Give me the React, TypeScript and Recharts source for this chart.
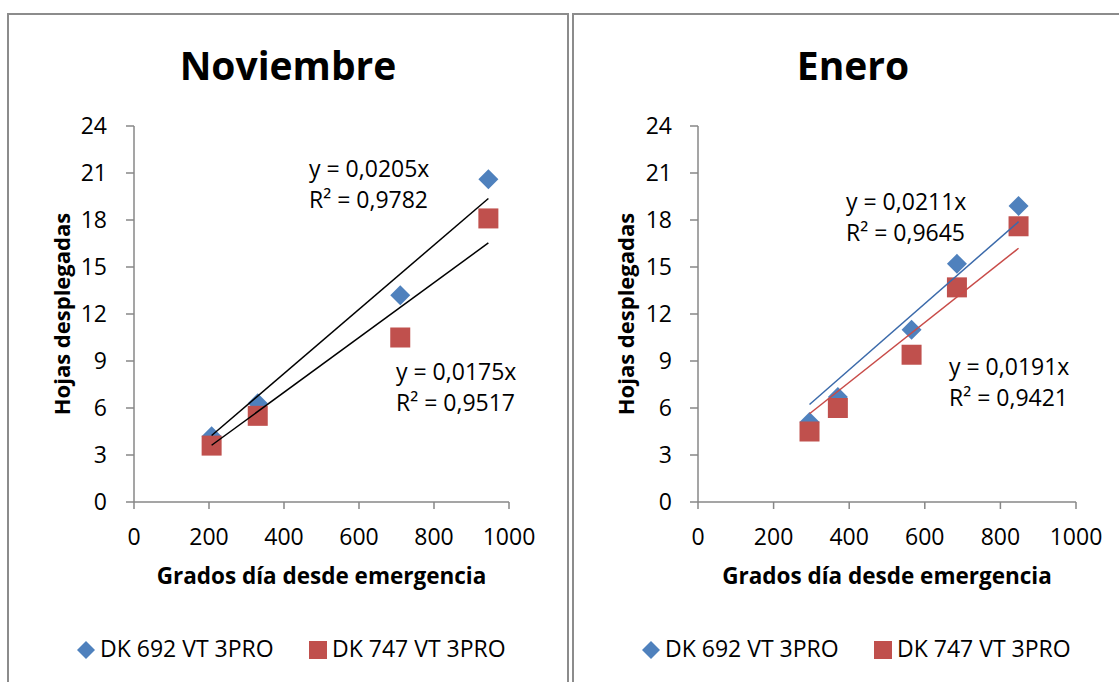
import React from 'react';
import { ScatterChart, Scatter, XAxis, YAxis, Legend } from 'recharts';

const SERIES_NAMES = ['DK 692 VT 3PRO', 'DK 747 VT 3PRO'];
const SERIES_COLORS = ['#4F81BD', '#C0504D'];

// Noviembre
const novGrados = [207, 330, 710, 945];
const novDk692 = [4.2, 6.3, 13.2, 20.6];
const novDk747 = [3.6, 5.5, 10.5, 18.1];
const novSlopes = [0.0205, 0.0175];
const novR2 = ['0,9782', '0,9517'];

// Enero
const eneGrados = [295, 370, 565, 685, 848];
const eneDk692 = [5.1, 6.7, 11.0, 15.2, 18.9];
const eneDk747 = [4.5, 6.0, 9.4, 13.7, 17.6];
const eneSlopes = [0.0211, 0.0191];
const eneR2 = ['0,9645', '0,9421'];

const X_TICKS = [0, 200, 400, 600, 800, 1000];
const Y_TICKS = [0, 3, 6, 9, 12, 15, 18, 21, 24];

const FONT = '"Open Sans", sans-serif';
const AXIS_GREY = '#878787';
const CHART_W = 560;
const CHART_H = 667;

const toPoints = (xs: number[], ys: number[]) => xs.map((x, i) => ({ x, y: ys[i] }));

// trendline through origin, drawn over the range of the data
const trendPoints = (xs: number[], slope: number) => {
  const lo = Math.min(...xs);
  const hi = Math.max(...xs);
  return [{ x: lo, y: slope * lo }, { x: hi, y: slope * hi }];
};

const fmtSlope = (s: number) => s.toFixed(4).replace('.', ',');

const Diamond = ({ cx, cy, fill }: any) => (
  <polygon points={`${cx},${cy - 10} ${cx + 10},${cy} ${cx},${cy + 10} ${cx - 10},${cy}`} fill={fill} />
);
const Square = ({ cx, cy, fill }: any) => (
  <rect x={cx - 10} y={cy - 10} width={20} height={20} fill={fill} />
);
const NoMark = () => <g />;

const XTitle = ({ viewBox }: any) => (
  <text
    x={viewBox.x + viewBox.width / 2}
    y={viewBox.y + 82}
    textAnchor="middle"
    fontSize={22.5}
    fontWeight="bold"
    fontFamily={FONT}
    fill="#000"
  >
    Grados día desde emergencia
  </text>
);

const YTitle = ({ viewBox }: any) => {
  const cx = viewBox.x - 13;
  const cy = viewBox.y + viewBox.height / 2;
  return (
    <text
      x={cx}
      y={cy}
      transform={`rotate(-90 ${cx} ${cy})`}
      textAnchor="middle"
      dominantBaseline="central"
      fontSize={22}
      fontWeight="bold"
      fontFamily={FONT}
      fill="#000"
    >
      Hojas desplegadas
    </text>
  );
};

const LegendRow = ({ payload }: any) => {
  const items = (payload || []).filter((e: any) => SERIES_NAMES.includes(e.value));
  return (
    <div style={{ position: 'relative', width: CHART_W, height: 30 }}>
      {items.map((entry: any, i: number) => {
        const left = 69 + i * 232;
        return (
          <React.Fragment key={entry.value}>
            <svg style={{ position: 'absolute', left, top: 8 }} width={18} height={18}>
              {entry.type === 'diamond' ? (
                <polygon points="9,0 18,9 9,18 0,9" fill={entry.color} />
              ) : (
                <rect width={18} height={18} fill={entry.color} />
              )}
            </svg>
            <span
              style={{
                position: 'absolute',
                left: left + 23,
                top: 0,
                fontSize: 23,
                lineHeight: '30px',
                whiteSpace: 'nowrap',
                color: '#000',
              }}
            >
              {entry.value}
            </span>
          </React.Fragment>
        );
      })}
    </div>
  );
};

interface PanelProps {
  left: number;
  title: string;
  grados: number[];
  dk692: number[];
  dk747: number[];
  slopes: number[];
  r2: string[];
  trendColors: string[];
  eqPos: { x: number; y: number }[];
  margin: { top: number; right: number; bottom: number; left: number };
  yTickMargin: number;
}

const Panel = ({ left, title, grados, dk692, dk747, slopes, r2, trendColors, eqPos, margin, yTickMargin }: PanelProps) => (
  <div
    style={{
      position: 'absolute',
      left,
      top: 13,
      width: 558,
      height: 700,
      border: '2px solid #8c8c8c',
      boxSizing: 'content-box',
    }}
  >
    <div style={{ position: 'absolute', left: -1, top: 0 }}>
      <ScatterChart width={CHART_W} height={CHART_H} margin={margin} style={{ fontFamily: FONT }}>
        <XAxis
          type="number"
          dataKey="x"
          domain={[0, 1000]}
          ticks={X_TICKS}
          height={60}
          stroke={AXIS_GREY}
          strokeWidth={1.5}
          tickSize={7}
          tickMargin={20}
          tick={{ fill: '#000', fontSize: 23, fontFamily: FONT }}
          label={<XTitle />}
        />
        <YAxis
          type="number"
          dataKey="y"
          domain={[0, 24]}
          ticks={Y_TICKS}
          width={60}
          stroke={AXIS_GREY}
          strokeWidth={1.5}
          tickSize={8}
          tickMargin={yTickMargin}
          tick={{ fill: '#000', fontSize: 23, fontFamily: FONT }}
          label={<YTitle />}
        />
        <Legend
          content={<LegendRow />}
          verticalAlign="bottom"
          wrapperStyle={{ top: 618, left: 0, width: CHART_W, height: 30 }}
        />
        <Scatter
          name={SERIES_NAMES[0]}
          data={toPoints(grados, dk692)}
          fill={SERIES_COLORS[0]}
          shape={Diamond}
          legendType="diamond"
          isAnimationActive={false}
        />
        <Scatter
          name={SERIES_NAMES[1]}
          data={toPoints(grados, dk747)}
          fill={SERIES_COLORS[1]}
          shape={Square}
          legendType="square"
          isAnimationActive={false}
        />
        {slopes.map((s, i) => (
          <Scatter
            key={'trend' + i}
            name={'trend' + i}
            data={trendPoints(grados, s)}
            line={{ stroke: trendColors[i], strokeWidth: 1.5 }}
            shape={NoMark}
            legendType="none"
            isAnimationActive={false}
          />
        ))}
      </ScatterChart>
      <svg
        width={CHART_W}
        height={CHART_H}
        style={{ position: 'absolute', left: 0, top: 0, pointerEvents: 'none' }}
        fontFamily={FONT}
      >
        <text x={280} y={65} textAnchor="middle" fontSize={39} fontWeight="bold" fill="#000">
          {title}
        </text>
        {slopes.map((s, i) => (
          <text key={'eq' + i} x={eqPos[i].x} y={eqPos[i].y} fontSize={23} fill="#000">
            <tspan x={eqPos[i].x}>{`y = ${fmtSlope(s)}x`}</tspan>
            <tspan x={eqPos[i].x} dy={31}>{`R² = ${r2[i]}`}</tspan>
          </text>
        ))}
      </svg>
    </div>
  </div>
);

export default function App() {
  return (
    <div
      style={{
        position: 'fixed',
        left: 0,
        top: 0,
        width: 1119,
        height: 682,
        overflow: 'hidden',
        background: '#fff',
        fontFamily: FONT,
      }}
    >
      <Panel
        left={7}
        title="Noviembre"
        grados={novGrados}
        dk692={novDk692}
        dk747={novDk747}
        slopes={novSlopes}
        r2={novR2}
        trendColors={['#000', '#000']}
        eqPos={[{ x: 301, y: 162 }, { x: 388, y: 365 }]}
        margin={{ top: 111, right: 59, bottom: 90, left: 66 }}
        yTickMargin={19}
      />
      <Panel
        left={572}
        title="Enero"
        grados={eneGrados}
        dk692={eneDk692}
        dk747={eneDk747}
        slopes={eneSlopes}
        r2={eneR2}
        trendColors={['#3B6AAA', '#C84B48']}
        eqPos={[{ x: 273, y: 195 }, { x: 376, y: 360 }]}
        margin={{ top: 111, right: 57, bottom: 90, left: 65 }}
        yTickMargin={18}
      />
    </div>
  );
}
